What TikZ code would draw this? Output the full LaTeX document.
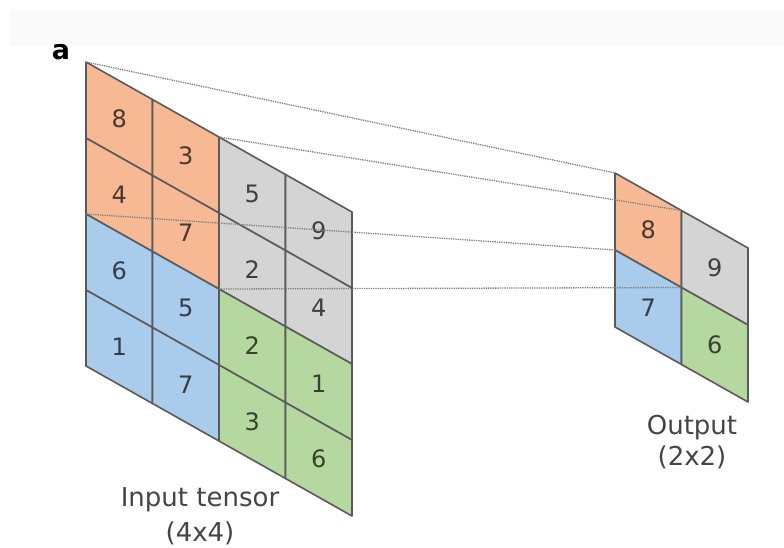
\documentclass[tikz,border=0pt]{standalone}
\usepackage{fontspec}
\setmainfont{DejaVu Sans}
\definecolor{tileorange}{HTML}{F7B994}
\definecolor{tileblue}{HTML}{A9CBEC}
\definecolor{tilegray}{HTML}{D4D4D4}
\definecolor{tilegreen}{HTML}{B5D8A0}
\definecolor{edgegray}{HTML}{5A5A5A}
\definecolor{textgray}{HTML}{454545}

% one skewed cell of a tensor: column, row, colour, value
\newcommand\tile[4]{%
  \filldraw[cell,fill=#3] (#1,#2) -- ++(1,0) -- ++(0,1) -- ++(-1,0) -- cycle;
  \path (#1+.5,#2+.5) node[num,text=#3!30!black] {#4};}

\begin{document}
\begin{tikzpicture}[x=1pt,y=-1pt,
    cell/.style={draw=edgegray,line width=1.6pt,line join=round},
    num/.style={font=\fontsize{24}{26}\selectfont},
    caption/.style={font=\fontsize{26}{28}\selectfont,text=textgray},
    link/.style={densely dotted,draw=black!50,line width=1.3pt}]
	\useasboundingbox (0,0) rectangle (784,547);
	\fill[black!2] (10,11) rectangle (784,46);
	\path (61,52) node (tag) {\fontsize{27}{28}\selectfont\bfseries a};

	% input tensor
	\begin{scope}[shift={(86,62)},x={(66.5pt,-37.5pt)},y={(0pt,-76pt)}]
		\tile{0}{0}{tileorange}{8}
		\tile{1}{0}{tileorange}{3}
		\tile{0}{1}{tileorange}{4}
		\tile{1}{1}{tileorange}{7}
		\tile{2}{0}{tilegray}{5}
		\tile{3}{0}{tilegray}{9}
		\tile{2}{1}{tilegray}{2}
		\tile{3}{1}{tilegray}{4}
		\tile{0}{2}{tileblue}{6}
		\tile{1}{2}{tileblue}{5}
		\tile{0}{3}{tileblue}{1}
		\tile{1}{3}{tileblue}{7}
		\tile{2}{2}{tilegreen}{2}
		\tile{3}{2}{tilegreen}{1}
		\tile{2}{3}{tilegreen}{3}
		\tile{3}{3}{tilegreen}{6}
		\coordinate (in00) at (0,0);
		\coordinate (in20) at (2,0);
		\coordinate (in02) at (0,2);
		\coordinate (in22) at (2,2);
	\end{scope}

	% output after pooling
	\begin{scope}[shift={(615,173)},x={(66.5pt,-37.5pt)},y={(0pt,-77pt)}]
		\tile{0}{0}{tileorange}{8}
		\tile{1}{0}{tilegray}{9}
		\tile{0}{1}{tileblue}{7}
		\tile{1}{1}{tilegreen}{6}
		\coordinate (out00) at (0,0);
		\coordinate (out10) at (1,0);
		\coordinate (out01) at (0,1);
		\coordinate (out11) at (1,1);
	\end{scope}

	\draw[link] (in00) -- (out00);
	\draw[link] (in20) -- (out10);
	\draw[link] (in02) -- (out01);
	\draw[link] (in22) -- (out11);

	\path (200,500) node[caption] (inname) {Input tensor};
	\path (200,533) node[caption] (insize) {(4x4)};
	\path (692,428) node[caption] (outname) {Output};
	\path (692,457) node[caption] (outsize) {(2x2)};
\end{tikzpicture}
\end{document}
